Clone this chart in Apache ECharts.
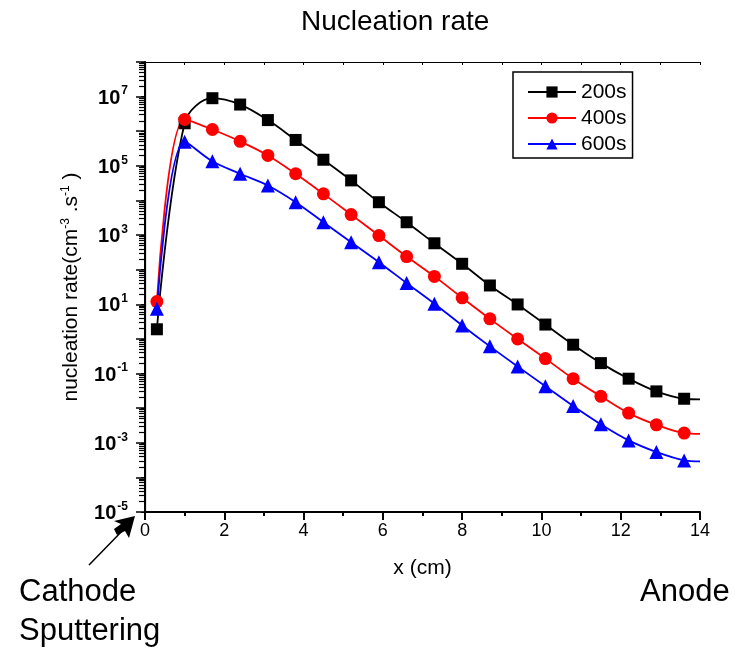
<!DOCTYPE html>
<html>
<head>
<meta charset="utf-8">
<title>Nucleation rate</title>
<script src="https://cdn.jsdelivr.net/npm/echarts@6/dist/echarts.min.js"></script>
<style>
  html, body { margin: 0; padding: 0; background: #fff; }
  #main { width: 737px; height: 650px; }
</style>
</head>
<body>
<div id="main"></div>
<script>
// positions along the discharge (cm)
const xs = [0.3, 1.0, 1.7, 2.4, 3.1, 3.8, 4.5, 5.2, 5.9, 6.6, 7.3, 8.0, 8.7, 9.4, 10.1, 10.8, 11.5, 12.2, 12.9, 13.6];
// nucleation rate (cm^-3 s^-1) at each time
const rate200 = [1.9, 1.7e6, 9.0e6, 5.9e6, 2.1e6, 5.6e5, 1.5e5, 3.8e4, 8.9e3, 2.35e3, 580, 148, 35, 9.9, 2.6, 0.68, 0.2, 0.071, 0.0305, 0.0187];
const rate400 = [12, 2.2e6, 1.12e6, 5.1e5, 2.0e5, 5.9e4, 1.55e4, 3.9e3, 970, 240, 64, 15.4, 3.8, 1.0, 0.27, 0.071, 0.022, 0.0072, 0.0033, 0.0019];
const rate600 = [7.4, 5.0e5, 1.35e5, 5.9e4, 2.7e4, 8.9e3, 2.35e3, 620, 165, 41, 10.4, 2.45, 0.61, 0.16, 0.043, 0.0115, 0.0034, 0.00117, 5.4e-4, 3.1e-4];
// the curves run on to the anode without a marker
const endX = 14;
const end200 = 0.018;
const end400 = 0.0018;
const end600 = 2.9e-4;

const seriesNames = ['200s', '400s', '600s'];
const xTicks = [0, 2, 4, 6, 8, 10, 12, 14];

const FONT = "'Liberation Sans', Arial, sans-serif";

function buildData(vals, endVal) {
  const d = xs.map((x, i) => [x, vals[i]]);
  d.push({ value: [endX, endVal], symbol: 'none' });
  return d;
}

const chart = echarts.init(document.getElementById('main'), null, { renderer: 'canvas' });

const lineSeries = (name, vals, endVal, color, symbol, size) => ({
  name: name,
  type: 'line',
  smooth: 0.35,
  data: buildData(vals, endVal),
  symbol: symbol,
  symbolSize: size,
  showAllSymbol: true,
  lineStyle: { color: color, width: 1.8 },
  itemStyle: { color: color, borderWidth: 0 },
  z: 3
});

const option = {
  backgroundColor: '#fff',
  animation: false,
  title: {
    text: 'Nucleation rate',
    left: 296,
    top: 3,
    textStyle: { fontFamily: FONT, fontSize: 28, fontWeight: 'normal', color: '#000' }
  },
  legend: {
    data: seriesNames,
    orient: 'vertical',
    left: 513,
    top: 72,
    padding: [9, 6, 3, 14],
    itemGap: 4,
    itemWidth: 48,
    itemHeight: 14,
    borderColor: '#000',
    borderWidth: 1.5,
    textStyle: { fontFamily: FONT, fontSize: 21, color: '#000', lineHeight: 22 }
  },
  grid: { left: 145, right: 37, top: 62, bottom: 138, containLabel: false },
  xAxis: [
    {
      type: 'value',
      min: 0, max: 14, interval: 2,
      name: 'x (cm)',
      nameLocation: 'middle',
      nameGap: 46,
      nameTextStyle: { fontFamily: FONT, fontSize: 21, color: '#000' },
      axisLine: { lineStyle: { color: '#000', width: 2 } },
      axisTick: { inside: false, length: 8, lineStyle: { color: '#000', width: 2 } },
      minorTick: { show: true, splitNumber: 2, length: 4, lineStyle: { color: '#000', width: 2 } },
      axisLabel: {
        margin: 10, fontFamily: FONT, fontSize: 18, color: '#000',
        formatter: v => xTicks.indexOf(v) >= 0 ? String(v) : ''
      },
      splitLine: { show: false }
    },
    {
      type: 'value',
      position: 'top',
      min: 0, max: 14, interval: 1,
      axisLine: { lineStyle: { color: '#000', width: 1.2 } },
      axisTick: { inside: true, length: 3, lineStyle: { color: '#000', width: 1 } },
      axisLabel: { show: false },
      splitLine: { show: false }
    }
  ],
  yAxis: [
    {
      type: 'log',
      logBase: 10,
      min: 1e-5, max: 1e8, interval: 1,
      name: '{a|nucleation rate(cm}{s|-3}{a| .s}{s|-1}{a| )}',
      nameLocation: 'middle',
      nameGap: 63,
      nameTextStyle: {
        rich: {
          a: { fontFamily: FONT, fontSize: 21, color: '#000', verticalAlign: 'bottom' },
          s: { fontFamily: FONT, fontSize: 12, color: '#000', verticalAlign: 'top', padding: [0, 0, 10, 0] }
        }
      },
      axisLine: { lineStyle: { color: '#000', width: 2 } },
      axisTick: { inside: false, length: 9, lineStyle: { color: '#000', width: 1.5 } },
      minorTick: { show: true, splitNumber: 9, length: 6, lineStyle: { color: '#000', width: 1.2 } },
      axisLabel: {
        margin: 17,
        formatter: function (v) {
          const p = Math.round(Math.log10(v));
          if (p % 2 === 0) return '';
          return '{b|10}{e|' + p + '}';
        },
        rich: {
          b: { fontFamily: FONT, fontSize: 20, fontWeight: 'bold', color: '#000', verticalAlign: 'bottom' },
          e: { fontFamily: FONT, fontSize: 12, fontWeight: 'bold', color: '#000', verticalAlign: 'top', padding: [0, 0, 11, 1] }
        }
      },
      splitLine: { show: false }
    },
    {
      type: 'log',
      logBase: 10,
      position: 'right',
      min: 1e-5, max: 1e8, interval: 1,
      axisLine: { lineStyle: { color: '#000', width: 1.2 } },
      axisTick: { inside: true, length: 4, lineStyle: { color: '#000', width: 1 } },
      minorTick: { show: true, splitNumber: 9, length: 2, lineStyle: { color: '#000', width: 1 } },
      axisLabel: { show: false },
      splitLine: { show: false }
    }
  ],
  series: [
    lineSeries('200s', rate200, end200, '#000000', 'rect', 12),
    lineSeries('400s', rate400, end400, '#ff0000', 'circle', 13),
    lineSeries('600s', rate600, end600, '#0000ff', 'triangle', 14)
  ],
  graphic: [
    { type: 'text', left: 19, top: 577, style: { text: 'Cathode', font: '31px ' + FONT, fill: '#000' } },
    { type: 'text', left: 19, top: 616, style: { text: 'Sputtering', font: '31px ' + FONT, fill: '#000' } },
    { type: 'text', left: 640, top: 577, style: { text: 'Anode', font: '31px ' + FONT, fill: '#000' } },
    // arrow pointing at the cathode end of the axis
    { type: 'line', shape: { x1: 89, y1: 565, x2: 126, y2: 527 }, style: { stroke: '#000', lineWidth: 1.5 } },
    { type: 'polygon', shape: { points: [[135, 516], [129, 538], [125, 531], [117, 535], [114, 529], [121, 524], [114, 521]] }, style: { fill: '#000' } }
  ]
};

chart.setOption(option);
</script>
</body>
</html>
